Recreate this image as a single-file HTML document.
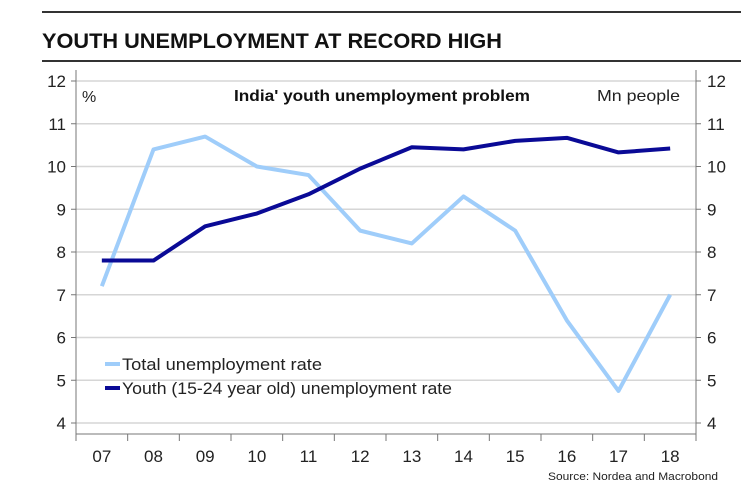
<!DOCTYPE html>
<html><head><meta charset="utf-8"><style>
body{margin:0;background:#fff;font-family:"Liberation Sans",sans-serif}
</style></head><body>
<svg width="741" height="497" xmlns="http://www.w3.org/2000/svg" font-family="Liberation Sans, sans-serif">
<line x1="42" y1="12" x2="741" y2="12" stroke="#333" stroke-width="2"/>
<text x="42" y="48" font-size="21" font-weight="bold" fill="#111" textLength="460" lengthAdjust="spacingAndGlyphs">YOUTH UNEMPLOYMENT AT RECORD HIGH</text>
<line x1="42" y1="61" x2="741" y2="61" stroke="#333" stroke-width="2"/>
<g id="grid"></g>
<line x1="76" y1="70" x2="76" y2="434" stroke="#777"/>
<line x1="696" y1="70" x2="696" y2="434" stroke="#777"/>
<line x1="76" y1="434" x2="696" y2="434" stroke="#777"/>
<g id="ticks"></g>
<text x="82" y="102" font-size="16" fill="#222">%</text>
<text x="234" y="101" font-size="16" font-weight="bold" fill="#111" textLength="296" lengthAdjust="spacingAndGlyphs">India' youth unemployment problem</text>
<text x="597" y="101" font-size="16" fill="#222" textLength="83" lengthAdjust="spacingAndGlyphs">Mn people</text>
<g id="series"></g>
<line x1="105" y1="364" x2="120" y2="364" stroke="#9fcdfa" stroke-width="4"/>
<text x="122" y="370" font-size="17" fill="#222" textLength="200" lengthAdjust="spacingAndGlyphs">Total unemployment rate</text>
<line x1="105" y1="388" x2="120" y2="388" stroke="#0a0a96" stroke-width="4"/>
<text x="122" y="394" font-size="17" fill="#222" textLength="330" lengthAdjust="spacingAndGlyphs">Youth (15-24 year old) unemployment rate</text>
<text x="548" y="480" font-size="11" fill="#222" textLength="170" lengthAdjust="spacingAndGlyphs">Source: Nordea and Macrobond</text>
</svg>
<script>
const categories=["07","08","09","10","11","12","13","14","15","16","17","18"];
const totalRate=[7.2,10.4,10.7,10.0,9.8,8.5,8.2,9.3,8.5,6.4,4.75,7.0];
const youthRate=[7.8,7.8,8.6,8.9,9.35,9.95,10.45,10.4,10.6,10.67,10.33,10.42];
const yTicks=[4,5,6,7,8,9,10,11,12];
const NS="http://www.w3.org/2000/svg";
const x0=76,x1=696,band=(x1-x0)/categories.length;
const xc=i=>x0+band*(i+0.5);
const y=v=>423-(v-4)*(423-81)/8;
function mk(t,a,p){const e=document.createElementNS(NS,t);for(const k in a)e.setAttribute(k,a[k]);p.appendChild(e);return e;}
const g=document.getElementById('grid'),tk=document.getElementById('ticks'),s=document.getElementById('series');
yTicks.forEach(v=>{
 const l=mk('line',{x1:x0,x2:x1,y1:y(v),y2:y(v),stroke:'#d6d6d6','stroke-width':1.5},g);
 
 
 mk('line',{x1:x0-5,x2:x0,y1:y(v),y2:y(v),stroke:'#777'},tk);
 mk('line',{x1:x1,x2:x1+5,y1:y(v),y2:y(v),stroke:'#777'},tk);
 const a=mk('text',{x:x0-10,y:y(v)+6,'font-size':17,'text-anchor':'end',fill:'#222'},tk);a.textContent=v;
 
 
 const b=mk('text',{x:x1+11,y:y(v)+6,'font-size':17,fill:'#222'},tk);b.textContent=v;
 
 
});
for(let i=0;i<=categories.length;i++){mk('line',{x1:x0+band*i,x2:x0+band*i,y1:434,y2:441,stroke:'#777'},tk);}
categories.forEach((c,i)=>{
 const t=mk('text',{x:xc(i),y:462,'font-size':17,'text-anchor':'middle',fill:'#222'},tk);t.textContent=c;
 
 
});
const p1=mk('polyline',{points:totalRate.map((v,i)=>xc(i)+','+y(v)).join(' '),fill:'none',stroke:'#9fcdfa','stroke-width':4,'stroke-linejoin':'round'},s);


const p2=mk('polyline',{points:youthRate.map((v,i)=>xc(i)+','+y(v)).join(' '),fill:'none',stroke:'#0a0a96','stroke-width':4,'stroke-linejoin':'round'},s);


</script>
</body></html>
